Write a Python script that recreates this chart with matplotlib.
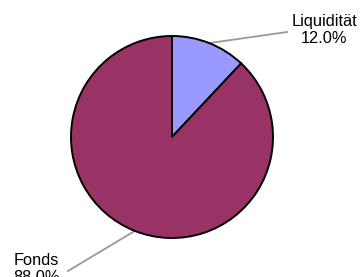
import numpy as np
import matplotlib
matplotlib.use("Agg")
import matplotlib.pyplot as plt

labels = ["Liquidität", "Fonds"]
values = [12.0, 88.0]
colors = ["#9999FF", "#993366"]

W, H = 363, 277
fig = plt.figure(figsize=(W / 100, H / 100), dpi=100)
ax = fig.add_axes([0, 0, 1, 1])
ax.set_xlim(0, W)
ax.set_ylim(0, H)
ax.set_aspect("equal")
ax.axis("off")

cx, cy, r = 172, H - 137, 101
wedges, _ = ax.pie(values, colors=colors, startangle=90, counterclock=False,
                   center=(cx, cy), radius=r,
                   wedgeprops=dict(edgecolor="black", linewidth=1.4))
ax.set_xlim(0, W)
ax.set_ylim(0, H)

label_pos = [(324, H - 30), (36, H - 269)]
line_end = [(287, H - 32), (68, H - 271)]
for w, lab, val, (tx, ty), (ex, ey) in zip(wedges, labels, values, label_pos, line_end):
    mid = np.deg2rad((w.theta1 + w.theta2) / 2)
    sx, sy = cx + r * np.cos(mid), cy + r * np.sin(mid)
    ax.plot([sx, ex], [sy, ey], color="#999999", linewidth=1.3, zorder=0.5)
    ax.text(tx, ty, f"{lab}\n{val:.1f}%", ha="center", va="center",
            fontsize=11.8, family="Liberation Sans", linespacing=1.2)

fig.savefig("out.png", dpi=100)
